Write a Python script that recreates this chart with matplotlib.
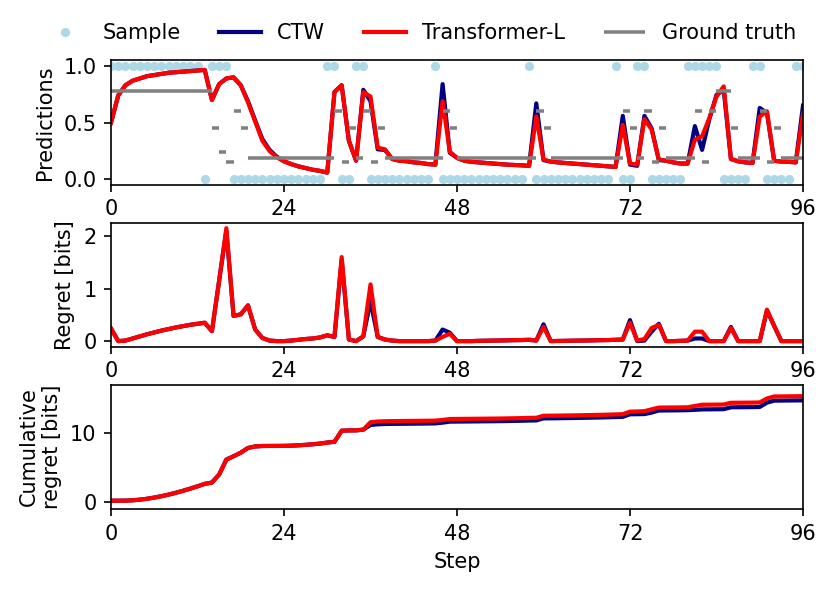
import numpy as np
import matplotlib
matplotlib.use("Agg")
import matplotlib.pyplot as plt

steps = list(range(97))

samples = [1, 1, 1, 1, 1, 1, 1, 1, 1, 1,
           1, 1, 1, 0, 1, 1, 1, 0, 0, 0,
           0, 0, 0, 0, 0, 0, 0, 0, 0, 0,
           1, 1, 0, 0, 1, 1, 0, 0, 0, 0,
           0, 0, 0, 0, 0, 1, 0, 0, 0, 0,
           0, 0, 0, 0, 0, 0, 0, 0, 1, 0,
           0, 0, 0, 0, 0, 0, 0, 0, 0, 0,
           1, 0, 0, 1, 1, 0, 0, 0, 0, 0,
           1, 1, 1, 1, 1, 0, 0, 0, 0, 1,
           1, 0, 0, 0, 0, 1, 1]

ground_truth = [0.78, 0.78, 0.78, 0.78, 0.78, 0.78, 0.78, 0.78, 0.78, 0.78,
                0.78, 0.78, 0.78, 0.78, 0.45, 0.24, 0.15, 0.60, 0.45, 0.19,
                0.19, 0.19, 0.19, 0.19, 0.19, 0.19, 0.19, 0.19, 0.19, 0.19,
                0.19, 0.60, 0.15, 0.45, 0.19, 0.60, 0.15, 0.45, 0.19, 0.19,
                0.19, 0.19, 0.19, 0.19, 0.19, 0.19, 0.60, 0.45, 0.19, 0.19,
                0.19, 0.19, 0.19, 0.19, 0.19, 0.19, 0.19, 0.19, 0.19, 0.60,
                0.45, 0.19, 0.19, 0.19, 0.19, 0.19, 0.19, 0.19, 0.19, 0.19,
                0.19, 0.60, 0.45, 0.19, 0.60, 0.15, 0.45, 0.19, 0.19, 0.19,
                0.19, 0.60, 0.15, 0.60, 0.78, 0.78, 0.45, 0.19, 0.19, 0.19,
                0.60, 0.15, 0.45, 0.19, 0.19, 0.19, 0.60]

pred_ctw = [0.50, 0.74, 0.83, 0.87, 0.89, 0.91, 0.92, 0.93, 0.94, 0.945,
            0.95, 0.955, 0.96, 0.965, 0.70, 0.84, 0.89, 0.90, 0.83, 0.69,
            0.52, 0.355, 0.26, 0.20, 0.16, 0.135, 0.115, 0.10, 0.085, 0.075,
            0.06, 0.77, 0.83, 0.34, 0.165, 0.79, 0.69, 0.265, 0.26, 0.18,
            0.165, 0.16, 0.15, 0.145, 0.135, 0.13, 0.84, 0.235, 0.19, 0.165,
            0.155, 0.15, 0.145, 0.14, 0.135, 0.13, 0.127, 0.124, 0.12, 0.67,
            0.17, 0.157, 0.15, 0.145, 0.14, 0.135, 0.13, 0.125, 0.12, 0.115,
            0.11, 0.56, 0.13, 0.12, 0.56, 0.45, 0.17, 0.165, 0.15, 0.14,
            0.14, 0.47, 0.26, 0.53, 0.745, 0.79, 0.18, 0.16, 0.15, 0.145,
            0.63, 0.585, 0.165, 0.157, 0.155, 0.15, 0.65]

pred_tf = [0.50, 0.74, 0.83, 0.87, 0.89, 0.91, 0.92, 0.93, 0.94, 0.945,
           0.95, 0.955, 0.96, 0.965, 0.70, 0.84, 0.89, 0.90, 0.83, 0.68,
           0.51, 0.34, 0.25, 0.195, 0.16, 0.135, 0.115, 0.10, 0.085, 0.075,
           0.06, 0.77, 0.83, 0.34, 0.165, 0.77, 0.73, 0.28, 0.265, 0.18,
           0.165, 0.16, 0.15, 0.145, 0.135, 0.13, 0.69, 0.245, 0.19, 0.165,
           0.155, 0.15, 0.145, 0.14, 0.135, 0.13, 0.127, 0.124, 0.12, 0.555,
           0.175, 0.157, 0.15, 0.145, 0.14, 0.135, 0.13, 0.125, 0.12, 0.115,
           0.11, 0.48, 0.14, 0.13, 0.53, 0.44, 0.175, 0.165, 0.15, 0.14,
           0.14, 0.35, 0.38, 0.54, 0.73, 0.82, 0.18, 0.16, 0.15, 0.145,
           0.555, 0.60, 0.165, 0.157, 0.155, 0.15, 0.58]

regret_ctw = [0.24, 0.00, 0.01, 0.05, 0.09, 0.13, 0.165, 0.20, 0.23, 0.26,
              0.285, 0.31, 0.33, 0.35, 0.19, 1.15, 2.10, 0.48, 0.51, 0.68,
              0.22, 0.06, 0.01, 0.00, 0.00, 0.01, 0.025, 0.04, 0.05, 0.07,
              0.11, 0.08, 1.55, 0.03, 0.00, 0.09, 0.76, 0.08, 0.03, 0.01,
              0.00, 0.00, 0.00, 0.00, 0.00, 0.01, 0.22, 0.16, 0.00, 0.00,
              0.00, 0.005, 0.007, 0.01, 0.012, 0.015, 0.018, 0.02, 0.025, 0.01,
              0.32, 0.00, 0.003, 0.005, 0.008, 0.01, 0.012, 0.015, 0.018, 0.02,
              0.025, 0.03, 0.40, 0.00, 0.01, 0.18, 0.33, 0.00, 0.00, 0.005,
              0.01, 0.05, 0.05, 0.00, 0.00, 0.00, 0.27, 0.00, 0.00, 0.00,
              0.00, 0.58, 0.29, 0.00, 0.00, 0.00, 0.00]

regret_tf = [0.24, 0.00, 0.01, 0.05, 0.09, 0.13, 0.165, 0.20, 0.23, 0.26,
             0.285, 0.31, 0.33, 0.35, 0.19, 1.15, 2.15, 0.48, 0.51, 0.68,
             0.22, 0.06, 0.01, 0.00, 0.00, 0.01, 0.025, 0.04, 0.05, 0.07,
             0.11, 0.08, 1.60, 0.03, 0.00, 0.09, 1.08, 0.08, 0.03, 0.01,
             0.00, 0.00, 0.00, 0.00, 0.00, 0.01, 0.08, 0.14, 0.00, 0.00,
             0.00, 0.005, 0.007, 0.01, 0.012, 0.015, 0.018, 0.02, 0.025, 0.01,
             0.27, 0.00, 0.003, 0.005, 0.008, 0.01, 0.012, 0.015, 0.018, 0.02,
             0.025, 0.03, 0.35, 0.01, 0.04, 0.25, 0.31, 0.00, 0.00, 0.005,
             0.01, 0.18, 0.18, 0.00, 0.00, 0.00, 0.25, 0.00, 0.00, 0.00,
             0.00, 0.60, 0.29, 0.00, 0.00, 0.00, 0.00]

cum_ctw = [0.24, 0.24, 0.25, 0.30, 0.39, 0.52, 0.69, 0.89, 1.12, 1.38,
           1.67, 1.98, 2.31, 2.66, 2.85, 4.00, 6.15, 6.63, 7.14, 7.82,
           8.04, 8.10, 8.11, 8.11, 8.12, 8.15, 8.20, 8.27, 8.35, 8.45,
           8.60, 8.70, 10.30, 10.34, 10.35, 10.45, 11.12, 11.22, 11.26, 11.28,
           11.29, 11.30, 11.31, 11.32, 11.33, 11.35, 11.46, 11.60, 11.61, 11.62,
           11.63, 11.64, 11.65, 11.66, 11.67, 11.69, 11.71, 11.73, 11.76, 11.78,
           12.07, 12.08, 12.09, 12.11, 12.12, 12.14, 12.16, 12.18, 12.20, 12.23,
           12.26, 12.29, 12.66, 12.67, 12.69, 12.90, 13.20, 13.21, 13.22, 13.23,
           13.25, 13.30, 13.36, 13.37, 13.38, 13.39, 13.66, 13.67, 13.68, 13.69,
           13.71, 14.33, 14.62, 14.63, 14.64, 14.65, 14.66]

cum_tf = [0.24, 0.24, 0.25, 0.30, 0.39, 0.52, 0.69, 0.89, 1.12, 1.38,
          1.67, 1.98, 2.31, 2.66, 2.85, 4.00, 6.15, 6.63, 7.14, 7.82,
          8.04, 8.10, 8.11, 8.11, 8.12, 8.15, 8.20, 8.27, 8.35, 8.45,
          8.60, 8.70, 10.30, 10.34, 10.35, 10.45, 11.52, 11.62, 11.66, 11.68,
          11.69, 11.70, 11.71, 11.72, 11.73, 11.75, 11.84, 11.98, 11.99, 12.00,
          12.01, 12.02, 12.03, 12.04, 12.05, 12.07, 12.09, 12.11, 12.14, 12.16,
          12.45, 12.46, 12.47, 12.49, 12.50, 12.52, 12.54, 12.56, 12.58, 12.61,
          12.64, 12.68, 13.04, 13.06, 13.11, 13.37, 13.62, 13.63, 13.64, 13.65,
          13.67, 13.85, 14.03, 14.04, 14.05, 14.06, 14.31, 14.32, 14.33, 14.34,
          14.36, 14.93, 15.22, 15.23, 15.24, 15.25, 15.26]

xticks = [0, 24, 48, 72, 96]

fig, axes = plt.subplots(3, 1, figsize=(831 / 150, 590 / 150), dpi=150)
fig.subplots_adjust(left=0.1336, right=0.9663, top=0.8978, bottom=0.1373, hspace=0.306)

x = np.array(steps)

# merge consecutive equal ground-truth values into one segment each
run_vals, run_start, run_end = [], [], []
for i, v in enumerate(ground_truth):
    if run_vals and v == run_vals[-1] and run_end[-1] == i:
        run_end[-1] = i + 1
    else:
        run_vals.append(v)
        run_start.append(i)
        run_end.append(i + 1)

ax = axes[0]
ax.plot(x, samples, 'o', color='lightblue', ms=4.4, mew=0, linestyle='none', label='Sample')
ax.plot(x, pred_ctw, color='navy', lw=2, label='CTW')
ax.plot(x, pred_tf, color='red', lw=2, label='Transformer-L')
ax.hlines(run_vals, run_start, run_end, color='gray', lw=1.7, label='Ground truth',
          capstyle='butt')
ax.set_ylabel('Predictions')
ax.set_yticks([0.0, 0.5, 1.0])
ax.set_ylim(-0.045, 1.05)

ax = axes[1]
ax.plot(x, regret_ctw, color='navy', lw=2)
ax.plot(x, regret_tf, color='red', lw=2)
ax.set_ylabel('Regret [bits]')
ax.set_yticks([0, 1, 2])

ax = axes[2]
ax.plot(x, cum_ctw, color='navy', lw=2)
ax.plot(x, cum_tf, color='red', lw=2)
ax.set_ylabel('Cumulative\nregret [bits]')
ax.set_yticks([0, 10])
ax.set_ylim(-0.95, 16.9)
ax.set_xlabel('Step')

for a in axes:
    a.set_xlim(0, 96)
    a.set_xticks(xticks)

handles, labels = axes[0].get_legend_handles_labels()
fig.legend(handles, labels, loc='center', bbox_to_anchor=(0.5055, 0.944), ncol=4,
           frameon=False, columnspacing=1.85)

fig.savefig('out.png', dpi=150)
